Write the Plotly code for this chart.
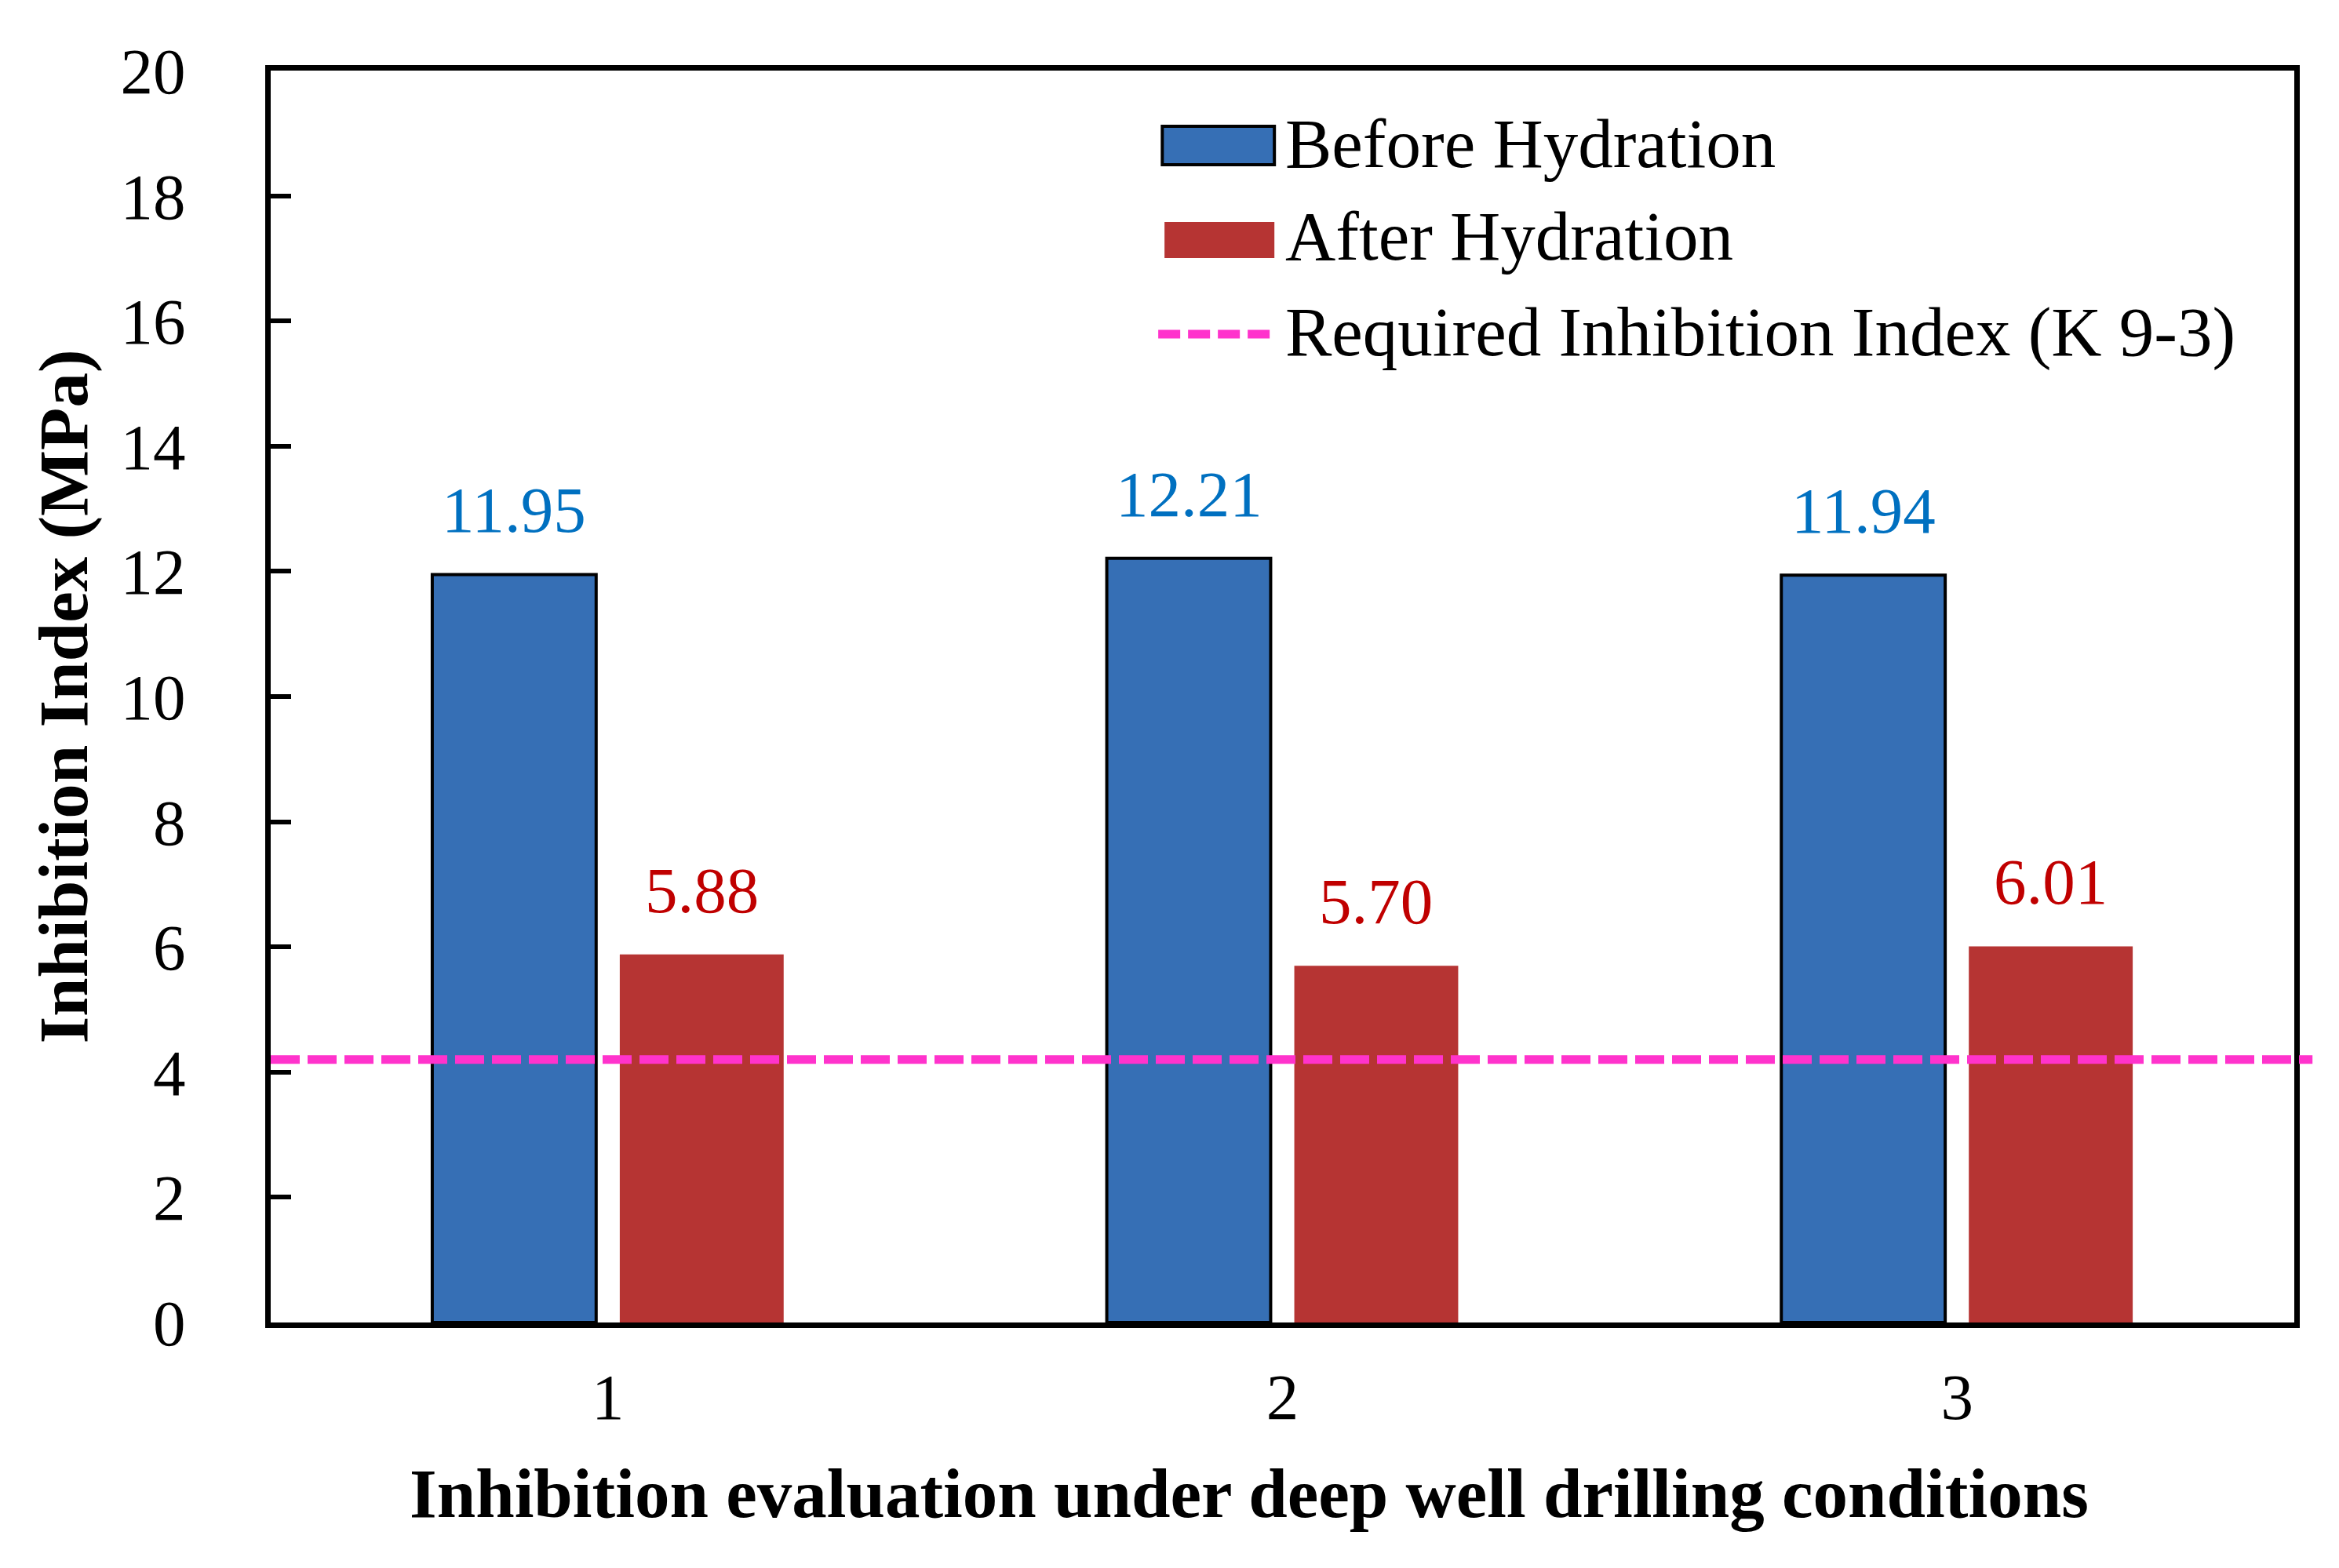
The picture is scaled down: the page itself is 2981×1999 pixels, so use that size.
import plotly.graph_objects as go

categories = ["1", "2", "3"]
series_names = ["Before Hydration", "After Hydration", "Required Inhibition Index (K 9-3)"]
before_hydration = [11.95, 12.21, 11.94]
after_hydration = [5.88, 5.70, 6.01]
required_index = 4.2
y_ticks = [0, 2, 4, 6, 8, 10, 12, 14, 16, 18, 20]
x_title = "Inhibition evaluation under deep well drilling conditions"
y_title = "Inhibition Index (MPa)"

FONT = "Liberation Serif, Times New Roman, serif"
BLUE = "#366fb5"
RED = "#b63433"
PINK = "#FF33CC"

W, H = 2981, 1999
ML, MR, MT, MB = 337, 65, 82, 321
BARGAP, BARGROUPGAP = 0.444, 0.126

fig = go.Figure()
fig.add_trace(go.Bar(
    name=series_names[0], x=categories, y=before_hydration,
    marker=dict(color=BLUE, line=dict(color="black", width=4)),
    showlegend=False,
))
fig.add_trace(go.Bar(
    name=series_names[1], x=categories, y=after_hydration,
    marker=dict(color=RED, line=dict(width=0)),
    showlegend=False,
))

# value labels above each bar (offset to each bar's slot within the group)
cat_px = (W - ML - MR) / len(categories)
slot_offset = (1 - BARGAP) / 2 * cat_px / 2
for values, sign, color in ((before_hydration, -1, "#0070C0"), (after_hydration, 1, "#C00000")):
    for idx, v in enumerate(values):
        fig.add_annotation(
            x=idx, y=v, xref="x", yref="y", text=f"{v:.2f}",
            showarrow=False, xanchor="center", yanchor="bottom",
            xshift=sign * slot_offset, yshift=34,
            font=dict(family=FONT, size=83, color=color),
        )

# required index reference line (extends slightly past the frame, as in the original)
fig.add_shape(
    type="line", xref="paper", yref="y",
    x0=0, x1=1.009, y0=required_index, y1=required_index,
    line=dict(color=PINK, width=11, dash="37px,10px"),
    layer="above",
)

# legend drawn in the original style: wide swatches + text
legend_text_x = 0.5006
legend_rows_y = [0.9417, 0.8678, 0.7913]
fig.add_shape(type="rect", xref="paper", yref="paper",
              x0=0.4406, x1=0.4960, y0=0.9248, y1=0.9555,
              fillcolor=BLUE, line=dict(color="black", width=4))
fig.add_shape(type="rect", xref="paper", yref="paper",
              x0=0.4417, x1=0.4960, y0=0.8502, y1=0.8791,
              fillcolor=RED, line=dict(width=0))
fig.add_shape(type="line", xref="paper", yref="paper",
              x0=0.4386, x1=0.4972, y0=0.7895, y1=0.7895,
              line=dict(color=PINK, width=11, dash="28px,10px"))
for name, ry in zip(series_names, legend_rows_y):
    fig.add_annotation(
        text=name, xref="paper", yref="paper", x=legend_text_x, y=ry,
        xanchor="left", yanchor="middle", showarrow=False,
        font=dict(family=FONT, size=89, color="black"),
    )

# x-axis title (slightly left of the plot centre, as in the original)
fig.add_annotation(
    text=f"<b>{x_title}</b>", xref="paper", yref="paper",
    x=0.4835, y=-0.1366, xanchor="center", yanchor="middle",
    showarrow=False, font=dict(family=FONT, size=89, color="black"),
)

fig.update_layout(
    width=W, height=H,
    margin=dict(l=ML, r=MR, t=MT, b=MB),
    paper_bgcolor="white", plot_bgcolor="white",
    barmode="group", bargap=BARGAP, bargroupgap=BARGROUPGAP,
    font=dict(family=FONT, size=83, color="black"),
    showlegend=False,
    xaxis=dict(
        type="category", range=[-0.5, len(categories) - 0.5],
        showline=True, linecolor="black", linewidth=7, mirror=True,
        ticks="", showgrid=False,
        tickfont=dict(family=FONT, size=83),
        ticklabelstandoff=16,
    ),
    yaxis=dict(
        range=[0, 20], tickvals=y_ticks,
        showline=True, linecolor="black", linewidth=7, mirror=True,
        ticks="inside", ticklen=26, tickwidth=6, tickcolor="black",
        showgrid=False, zeroline=False,
        tickfont=dict(family=FONT, size=83),
        ticklabelstandoff=85,
        title=dict(
            text=f"<b>{y_title}</b>",
            font=dict(family=FONT, size=89), standoff=15,
        ),
    ),
)

fig.write_html("out.html")
